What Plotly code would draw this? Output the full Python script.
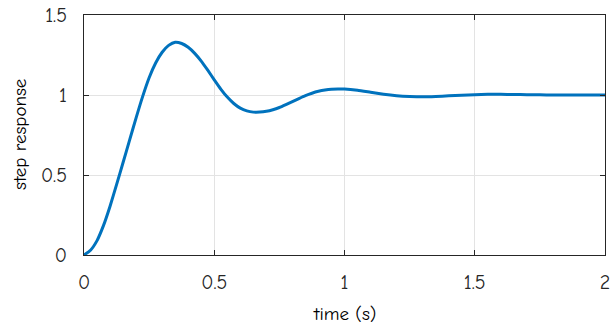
import plotly.graph_objects as go

# time samples (s) and step response values
time_s = [0.0, 0.025, 0.05, 0.075, 0.1, 0.125, 0.15, 0.175, 0.2, 0.225,
          0.25, 0.275, 0.3, 0.325, 0.35, 0.375, 0.4, 0.425, 0.45, 0.475,
          0.5, 0.525, 0.55, 0.575, 0.6, 0.625, 0.65, 0.675, 0.7, 0.725,
          0.75, 0.775, 0.8, 0.825, 0.85, 0.875, 0.9, 0.925, 0.95, 0.975,
          1.0, 1.05, 1.1, 1.15, 1.2, 1.25, 1.3, 1.35, 1.4, 1.45,
          1.5, 1.55, 1.6, 1.65, 1.7, 1.75, 1.8, 1.85, 1.9, 1.95, 2.0]
response = [0.0, 0.03, 0.09, 0.185, 0.305, 0.44, 0.578, 0.718, 0.857, 0.99,
            1.108, 1.2, 1.267, 1.31, 1.33, 1.322, 1.298, 1.26, 1.212, 1.155,
            1.095, 1.037, 0.987, 0.947, 0.918, 0.901, 0.893, 0.893, 0.898, 0.908,
            0.922, 0.94, 0.959, 0.978, 0.996, 1.011, 1.023, 1.031, 1.036, 1.038,
            1.037, 1.029, 1.017, 1.005, 0.996, 0.991, 0.989, 0.991, 0.995, 0.999,
            1.002, 1.004, 1.004, 1.003, 1.002, 1.001, 1.0, 0.9995, 0.9995, 1.0, 1.0]

x_ticks = [0, 0.5, 1, 1.5, 2]
x_tick_labels = ["0", "0.5", "1", "1.5", "2"]
y_ticks = [0, 0.5, 1, 1.5]
y_tick_labels = ["0", "0.5", "1", "1.5"]
x_title = "time (s)"
y_title = "step response"

FONT = "Humor Sans, xkcd Script, Comic Neue, DejaVu Sans, sans-serif"
AX = "#262626"

fig = go.Figure()
fig.add_trace(go.Scatter(x=time_s, y=response, mode="lines",
                         line=dict(color="#0072BD", width=3, shape="spline", smoothing=0.5),
                         showlegend=False, hoverinfo="skip", cliponaxis=False))

axis_common = dict(showline=True, linecolor=AX, linewidth=1, mirror="ticks",
                   ticks="inside", ticklen=5, tickcolor=AX, tickwidth=1,
                   showgrid=True, gridcolor="#e3e3e3", gridwidth=1, zeroline=False,
                   automargin=False,
                   tickfont=dict(family=FONT, size=20, color=AX))

fig.update_xaxes(range=[0, 2], tickvals=x_ticks, ticktext=x_tick_labels,
                 ticklabelstandoff=9, **axis_common)
fig.update_yaxes(range=[0, 1.5], tickvals=y_ticks, ticktext=y_tick_labels,
                 ticklabelstandoff=12, **axis_common)

fig.add_annotation(text=x_title, xref="paper", yref="paper", x=0.5, y=0,
                   yshift=-59, showarrow=False, xanchor="center", yanchor="middle",
                   font=dict(family=FONT, size=19, color="#000"))
fig.add_annotation(text=y_title, xref="paper", yref="paper", x=0, y=0.5,
                   xshift=-64, showarrow=False, textangle=-90, xanchor="center", yanchor="middle",
                   font=dict(family=FONT, size=19, color="#000"))

fig.update_layout(width=615, height=328, margin=dict(l=84, r=10, t=15, b=73),
                  plot_bgcolor="white", paper_bgcolor="white")

fig.write_html("out.html", config={"displayModeBar": False},
               post_script="document.body.style.margin='0';")
